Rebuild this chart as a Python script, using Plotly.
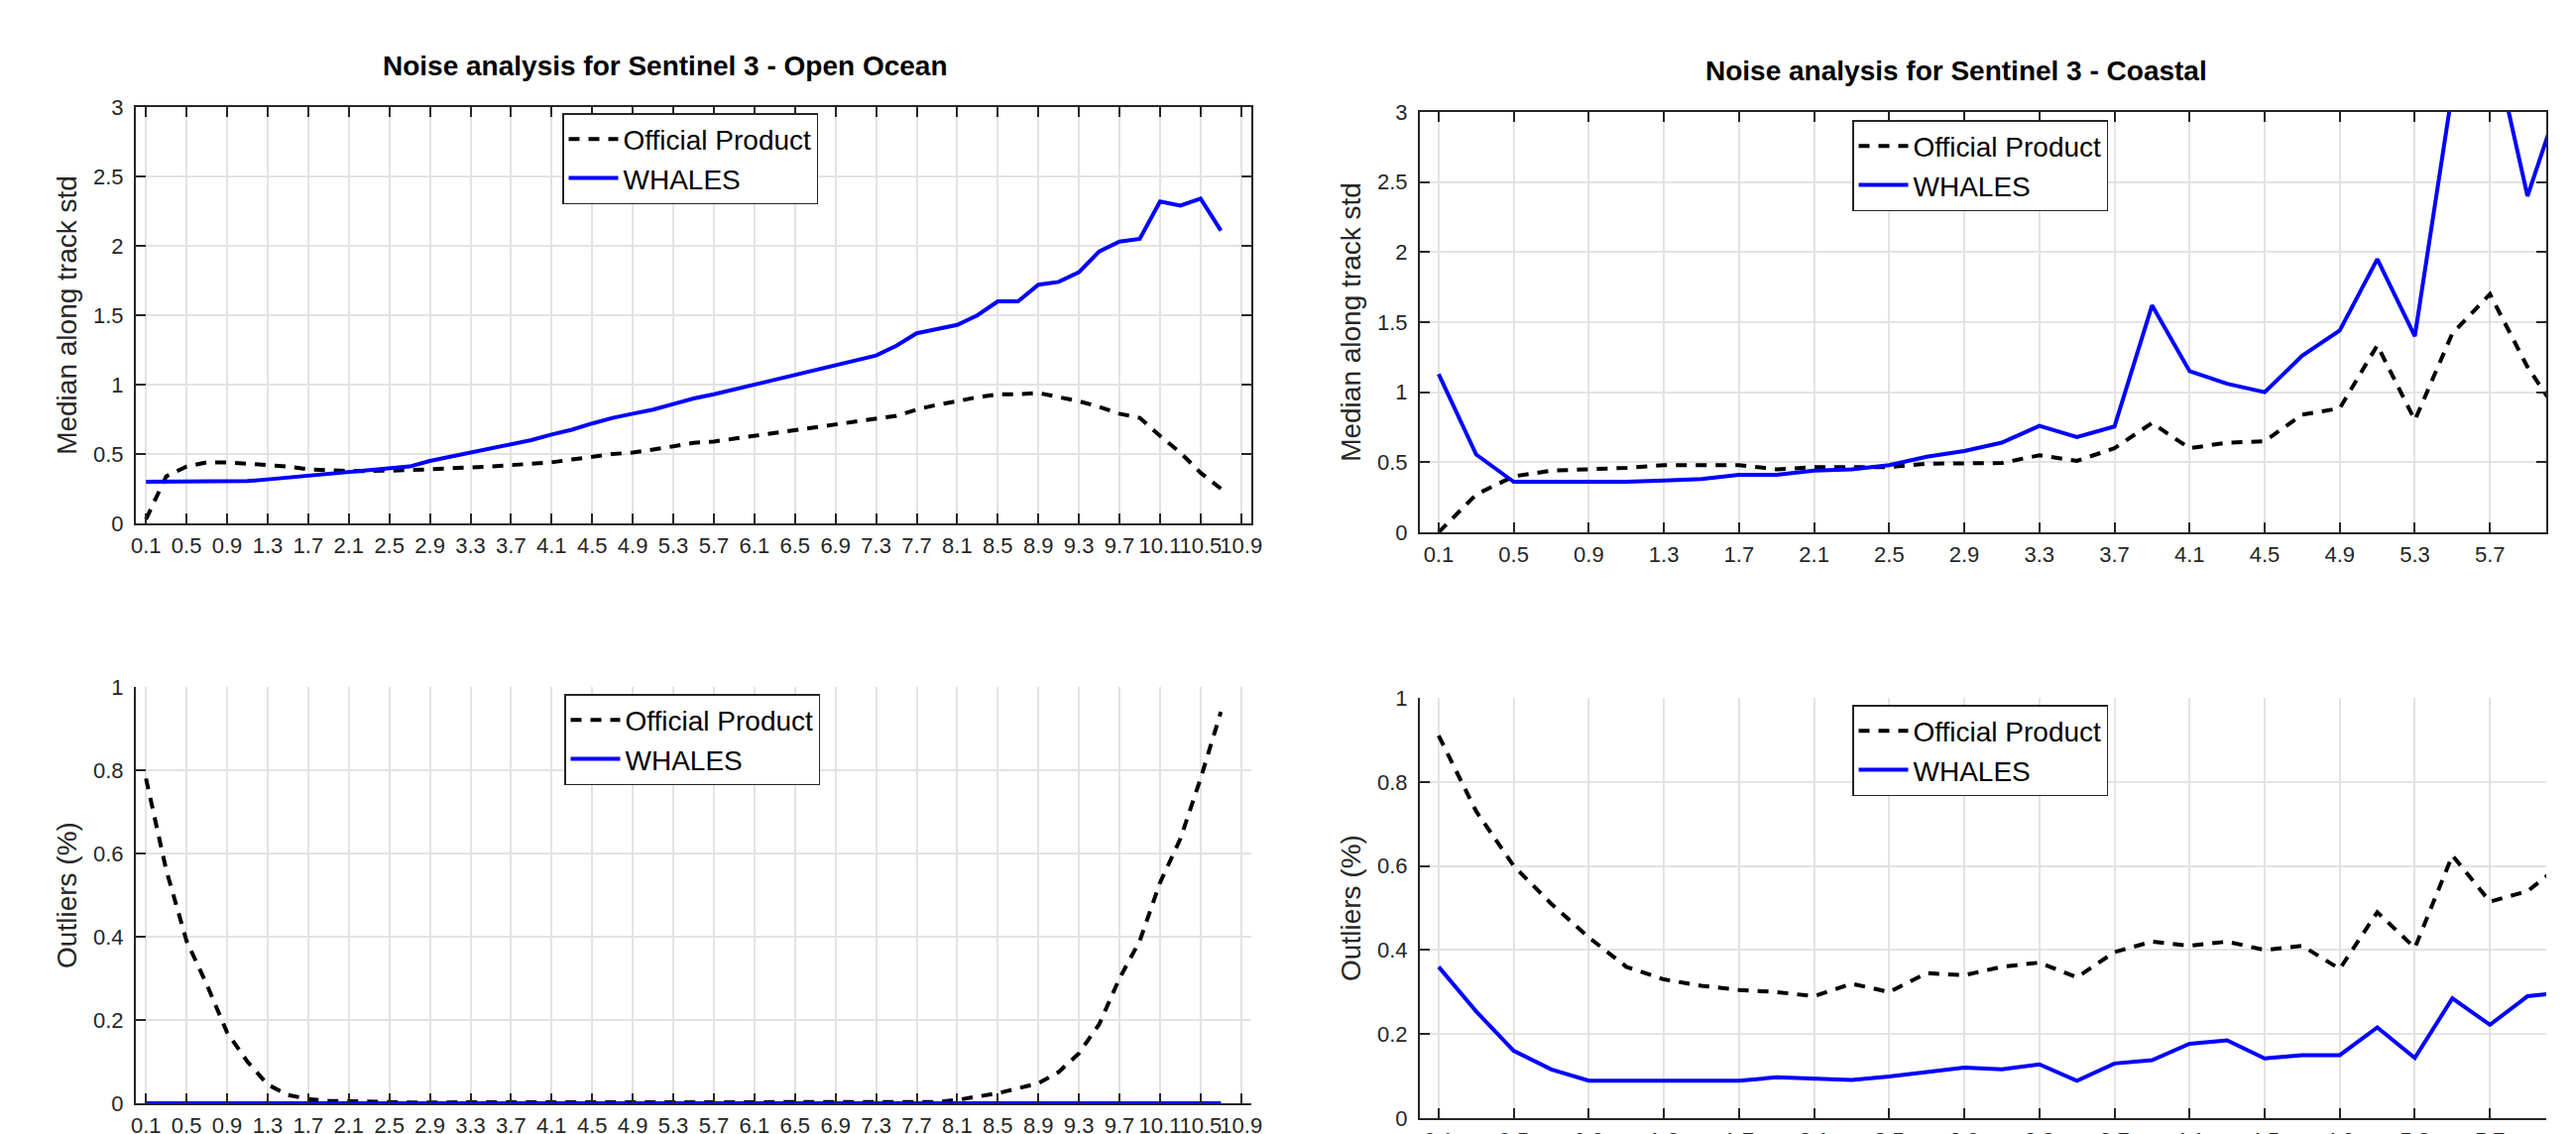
import plotly.graph_objects as go

# ---------------- data ----------------
x_ocean = [0.1, 0.3, 0.5, 0.7, 0.9, 1.1, 1.3, 1.5, 1.7, 1.9, 2.1, 2.3, 2.5, 2.7, 2.9, 3.1, 3.3, 3.5,
           3.7, 3.9, 4.1, 4.3, 4.5, 4.7, 4.9, 5.1, 5.3, 5.5, 5.7, 5.9, 6.1, 6.3, 6.5, 6.7, 6.9, 7.1,
           7.3, 7.5, 7.7, 7.9, 8.1, 8.3, 8.5, 8.7, 8.9, 9.1, 9.3, 9.5, 9.7, 9.9, 10.1, 10.3, 10.5, 10.7]

ocean_std_official = [0.03, 0.34, 0.41, 0.44, 0.44, 0.43, 0.425, 0.41, 0.39, 0.38, 0.377, 0.377, 0.384, 0.384,
                      0.39, 0.395, 0.405, 0.41, 0.42, 0.43, 0.44, 0.46, 0.48, 0.50, 0.51, 0.53, 0.555, 0.58,
                      0.59, 0.61, 0.63, 0.65, 0.67, 0.69, 0.715, 0.735, 0.75, 0.775, 0.82, 0.855, 0.88, 0.91,
                      0.93, 0.93, 0.94, 0.91, 0.88, 0.84, 0.79, 0.76, 0.63, 0.51, 0.365, 0.25]
ocean_std_whales = [0.30, 0.30, 0.30, 0.30, 0.30, 0.305, 0.317, 0.33, 0.34, 0.357, 0.37, 0.377, 0.39, 0.41,
                    0.45, 0.48, 0.51, 0.54, 0.57, 0.60, 0.64, 0.675, 0.72, 0.76, 0.79, 0.82, 0.86, 0.90,
                    0.93, 0.965, 1.0, 1.03, 1.07, 1.10, 1.14, 1.175, 1.21, 1.28, 1.37, 1.40, 1.43, 1.50,
                    1.60, 1.60, 1.72, 1.74, 1.81, 1.96, 2.03, 2.05, 2.32, 2.29, 2.34, 2.11]

ocean_out_official = [0.78, 0.56, 0.39, 0.285, 0.17, 0.10, 0.045, 0.02, 0.01, 0.006, 0.005, 0.003, 0.003,
                      0.002, 0.002, 0.002, 0.002, 0.002, 0.002, 0.002, 0.002, 0.002, 0.002, 0.002, 0.002,
                      0.002, 0.002, 0.002, 0.002, 0.002, 0.002, 0.002, 0.002, 0.002, 0.002, 0.002, 0.002,
                      0.002, 0.003, 0.003, 0.008, 0.015, 0.024, 0.036, 0.048, 0.075, 0.12, 0.19, 0.30, 0.39,
                      0.53, 0.635, 0.78, 0.94]
ocean_out_whales = [0.0] * 54

x_coastal = [0.1, 0.3, 0.5, 0.7, 0.9, 1.1, 1.3, 1.5, 1.7, 1.9, 2.1, 2.3, 2.5, 2.7, 2.9, 3.1, 3.3, 3.5,
             3.7, 3.9, 4.1, 4.3, 4.5, 4.7, 4.9, 5.1, 5.3, 5.5, 5.7, 5.9, 6.1]

coastal_std_official = [0.0, 0.27, 0.40, 0.44, 0.45, 0.46, 0.48, 0.48, 0.48, 0.45, 0.465, 0.465, 0.465,
                        0.49, 0.495, 0.495, 0.55, 0.51, 0.60, 0.78, 0.60, 0.64, 0.65, 0.84, 0.885, 1.335,
                        0.80, 1.42, 1.70, 1.18, 0.78]
coastal_std_whales = [1.13, 0.555, 0.36, 0.36, 0.355, 0.36, 0.37, 0.38, 0.41, 0.41, 0.44, 0.45, 0.48, 0.54,
                      0.58, 0.64, 0.76, 0.68, 0.755, 1.62, 1.15, 1.06, 1.0, 1.26, 1.44, 1.95, 1.40, 3.15,
                      3.6, 2.40, 3.2]

coastal_out_official = [0.91, 0.73, 0.60, 0.51, 0.43, 0.36, 0.33, 0.315, 0.305, 0.30, 0.29, 0.32, 0.30,
                        0.345, 0.34, 0.36, 0.37, 0.335, 0.395, 0.42, 0.41, 0.42, 0.40, 0.41, 0.355, 0.49,
                        0.405, 0.625, 0.515, 0.54, 0.61]
coastal_out_whales = [0.36, 0.254, 0.16, 0.116, 0.089, 0.089, 0.089, 0.087, 0.089, 0.097, 0.094, 0.091,
                      0.099, 0.109, 0.12, 0.116, 0.128, 0.089, 0.13, 0.138, 0.177, 0.185, 0.142, 0.15,
                      0.15, 0.216, 0.143, 0.285, 0.222, 0.29, 0.30]

xtick_ocean = [0.1, 0.5, 0.9, 1.3, 1.7, 2.1, 2.5, 2.9, 3.3, 3.7, 4.1, 4.5, 4.9, 5.3, 5.7, 6.1, 6.5, 6.9,
               7.3, 7.7, 8.1, 8.5, 8.9, 9.3, 9.7, 10.1, 10.5, 10.9]
xtick_ocean_text = ["0.1", "0.5", "0.9", "1.3", "1.7", "2.1", "2.5", "2.9", "3.3", "3.7", "4.1", "4.5",
                    "4.9", "5.3", "5.7", "6.1", "6.5", "6.9", "7.3", "7.7", "8.1", "8.5", "8.9", "9.3",
                    "9.7", "10.1", "10.5", "10.9"]
xtick_coastal = [0.1, 0.5, 0.9, 1.3, 1.7, 2.1, 2.5, 2.9, 3.3, 3.7, 4.1, 4.5, 4.9, 5.3, 5.7]
xtick_coastal_text = ["0.1", "0.5", "0.9", "1.3", "1.7", "2.1", "2.5", "2.9", "3.3", "3.7", "4.1",
                      "4.5", "4.9", "5.3", "5.7"]
ytick_std = [0, 0.5, 1, 1.5, 2, 2.5, 3]
ytick_std_text = ["0", "0.5", "1", "1.5", "2", "2.5", "3"]
ytick_out = [0, 0.2, 0.4, 0.6, 0.8, 1]
ytick_out_text = ["0", "0.2", "0.4", "0.6", "0.8", "1"]

names = ["Official Product", "WHALES"]
titles = ["Noise analysis for Sentinel 3 - Open Ocean", "Noise analysis for Sentinel 3 - Coastal"]
ylabels = ["Median along track std", "Outliers (%)"]

# ---------------- figure ----------------
W, H = 2598, 1144
FONT = "Liberation Sans, Arial, Helvetica, sans-serif"
AX = "#262626"
GRID = "#e3e3e3"

fig = go.Figure()

panels = [
    # (x, y_official, y_whales, xaxis id, yaxis id, legend id)
    (x_ocean, ocean_std_official, ocean_std_whales, "x", "y", "legend"),
    (x_coastal, coastal_std_official, coastal_std_whales, "x2", "y2", "legend2"),
    (x_ocean, ocean_out_official, ocean_out_whales, "x3", "y3", "legend3"),
    (x_coastal, coastal_out_official, coastal_out_whales, "x4", "y4", "legend4"),
]
for xs, yo, yw, xa, ya, lg in panels:
    fig.add_trace(go.Scatter(x=xs, y=yo, mode="lines", name=names[0], xaxis=xa, yaxis=ya, legend=lg,
                             line=dict(color="black", width=4, dash="11px,9px")))
    fig.add_trace(go.Scatter(x=xs, y=yw, mode="lines", name=names[1], xaxis=xa, yaxis=ya, legend=lg,
                             line=dict(color="#0000ff", width=4)))


def px_x(p):
    return p / W


def px_y(p):
    return 1 - p / H


def xaxis(dom, rng, tv, tt, anchor, mirror):
    return dict(domain=dom, range=rng, tickmode="array", tickvals=tv, ticktext=tt, tickangle=0,
                anchor=anchor, showline=True, linecolor=AX, linewidth=2, mirror=mirror,
                ticks="inside", ticklen=10, tickwidth=1.5, tickcolor=AX, ticklabelstandoff=2,
                showgrid=True, gridcolor=GRID, gridwidth=1.5, zeroline=False, automargin=False,
                tickfont=dict(family=FONT, size=22, color=AX), fixedrange=True)


def yaxis(dom, rng, tv, tt, anchor, mirror, title):
    return dict(domain=dom, range=rng, tickmode="array", tickvals=tv, ticktext=tt,
                anchor=anchor, showline=True, linecolor=AX, linewidth=2, mirror=mirror,
                ticks="inside", ticklen=10, tickwidth=1.5, tickcolor=AX, ticklabelstandoff=6,
                showgrid=True, gridcolor=GRID, gridwidth=1.5, zeroline=False, automargin=False,
                tickfont=dict(family=FONT, size=22, color=AX),
                title=dict(text=title, font=dict(family=FONT, size=28, color=AX), standoff=8),
                fixedrange=True)


xL = [px_x(137), px_x(1262)]
xR = [px_x(1432), px_x(2568)]

fig.update_layout(
    width=W, height=H, autosize=False,
    margin=dict(l=0, r=0, t=0, b=0, pad=0, autoexpand=False),
    paper_bgcolor="white", plot_bgcolor="white",
    font=dict(family=FONT, color=AX),
    xaxis=xaxis(xL, [0, 11], xtick_ocean, xtick_ocean_text, "y", "ticks"),
    yaxis=yaxis([px_y(528), px_y(108)], [0, 3], ytick_std, ytick_std_text, "x", "ticks", ylabels[0]),
    xaxis2=xaxis(xR, [0, 6], xtick_coastal, xtick_coastal_text, "y2", "ticks"),
    yaxis2=yaxis([px_y(537), px_y(113)], [0, 3], ytick_std, ytick_std_text, "x2", "ticks", ylabels[0]),
    xaxis3=xaxis(xL, [0, 11], xtick_ocean, xtick_ocean_text, "y3", False),
    yaxis3=yaxis([px_y(1113), px_y(693)], [0, 1], ytick_out, ytick_out_text, "x3", False, ylabels[1]),
    xaxis4=xaxis(xR, [0, 6], xtick_coastal, xtick_coastal_text, "y4", False),
    yaxis4=yaxis([px_y(1128), px_y(704)], [0, 1], ytick_out, ytick_out_text, "x4", False, ylabels[1]),
    showlegend=True,
)

leg_common = dict(xanchor="left", yanchor="middle", bgcolor="white", bordercolor=AX, borderwidth=1.5,
                  font=dict(family=FONT, size=28, color="black"), itemwidth=50, tracegroupgap=0)
fig.update_layout(
    legend=dict(x=px_x(567), y=px_y(160), **leg_common),
    legend2=dict(x=px_x(1868), y=px_y(167), **leg_common),
    legend3=dict(x=px_x(569), y=px_y(746), **leg_common),
    legend4=dict(x=px_x(1868), y=px_y(757), **leg_common),
)

fig.add_annotation(text=titles[0], x=px_x(671), y=px_y(67), xref="paper", yref="paper",
                   showarrow=False, xanchor="center", yanchor="middle",
                   font=dict(family=FONT, size=28, color="black", weight="bold"))
fig.add_annotation(text=titles[1], x=px_x(1973), y=px_y(71), xref="paper", yref="paper",
                   showarrow=False, xanchor="center", yanchor="middle",
                   font=dict(family=FONT, size=28, color="black", weight="bold"))

fig.write_html("out.html", config={"displayModeBar": False},
               post_script="document.body.style.margin='0';document.body.style.overflow='hidden';")
